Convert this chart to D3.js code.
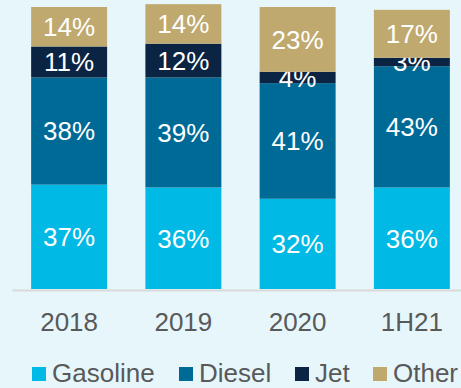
<!DOCTYPE html>
<html>
<head>
<meta charset="utf-8">
<script src="https://cdn.jsdelivr.net/npm/d3@7"></script>
<style>
  html, body { margin: 0; padding: 0; background: #E6F6FB; }
  svg { display: block; font-family: "Liberation Sans", Arial, sans-serif; }
</style>
</head>
<body>
<svg id="chart" width="461" height="388"></svg>
<script>
// Share of refined product output by type (%)
const categories = ["2018", "2019", "2020", "1H21"];
const seriesNames = ["Gasoline", "Diesel", "Jet", "Other"];
const gasoline = [37, 36, 32, 36];
const diesel   = [38, 39, 41, 43];
const jet      = [11, 12, 4, 3];
const other    = [14, 14, 23, 17];
const colors   = ["#00B9E4", "#006A97", "#0B2443", "#BFA96E"];

const table = categories.map((c, i) => ({
  category: c,
  Gasoline: gasoline[i],
  Diesel: diesel[i],
  Jet: jet[i],
  Other: other[i]
}));

const svg = d3.select("#chart");
const baseY = 289;

const x = d3.scaleBand()
  .domain(categories)
  .range([12, 469])
  .paddingInner(0.335)
  .paddingOuter(0.1675);

const y = d3.scaleLinear().domain([0, 100]).range([baseY, 7]);

const color = d3.scaleOrdinal().domain(seriesNames).range(colors);

const stacked = d3.stack().keys(seriesNames)(table);

const layers = svg.append("g")
  .selectAll("g")
  .data(stacked)
  .join("g")
  .attr("fill", d => color(d.key));

layers.selectAll("rect")
  .data(d => d)
  .join("rect")
  .attr("x", d => x(d.data.category))
  .attr("width", x.bandwidth())
  .attr("y", d => y(d[1]))
  .attr("height", d => y(d[0]) - y(d[1]));

// value labels centred in each segment
layers.selectAll("text")
  .data(d => d.map(v => ({ v, key: d.key })))
  .join("text")
  .attr("x", d => x(d.v.data.category) + x.bandwidth() / 2)
  .attr("y", d => (y(d.v[0]) + y(d.v[1])) / 2)
  .attr("dy", "0.36em")
  .attr("text-anchor", "middle")
  .attr("fill", "#FFFFFF")
  .attr("font-size", 26)
  .text(d => d.v.data[d.key] + "%");

// category axis
const axis = svg.append("g")
  .attr("transform", `translate(0,${baseY + 1})`)
  .call(d3.axisBottom(x).tickSize(0).tickSizeOuter(0).tickPadding(23));
axis.select(".domain").attr("stroke", "#D9D9D9").attr("stroke-width", 2);
axis.selectAll(".tick text")
  .attr("fill", "#595959")
  .attr("font-size", 26)
  .attr("font-family", "Liberation Sans, Arial, sans-serif");

// legend
const legendX = [32, 179, 295, 373];
const legend = svg.append("g")
  .selectAll("g")
  .data(seriesNames)
  .join("g")
  .attr("transform", (d, i) => `translate(${legendX[i]},367)`);
legend.append("rect")
  .attr("width", 14)
  .attr("height", 14)
  .attr("fill", d => color(d));
legend.append("text")
  .attr("x", 20)
  .attr("y", 15)
  .attr("fill", "#595959")
  .attr("font-size", 26)
  .text(d => d);
</script>
</body>
</html>
